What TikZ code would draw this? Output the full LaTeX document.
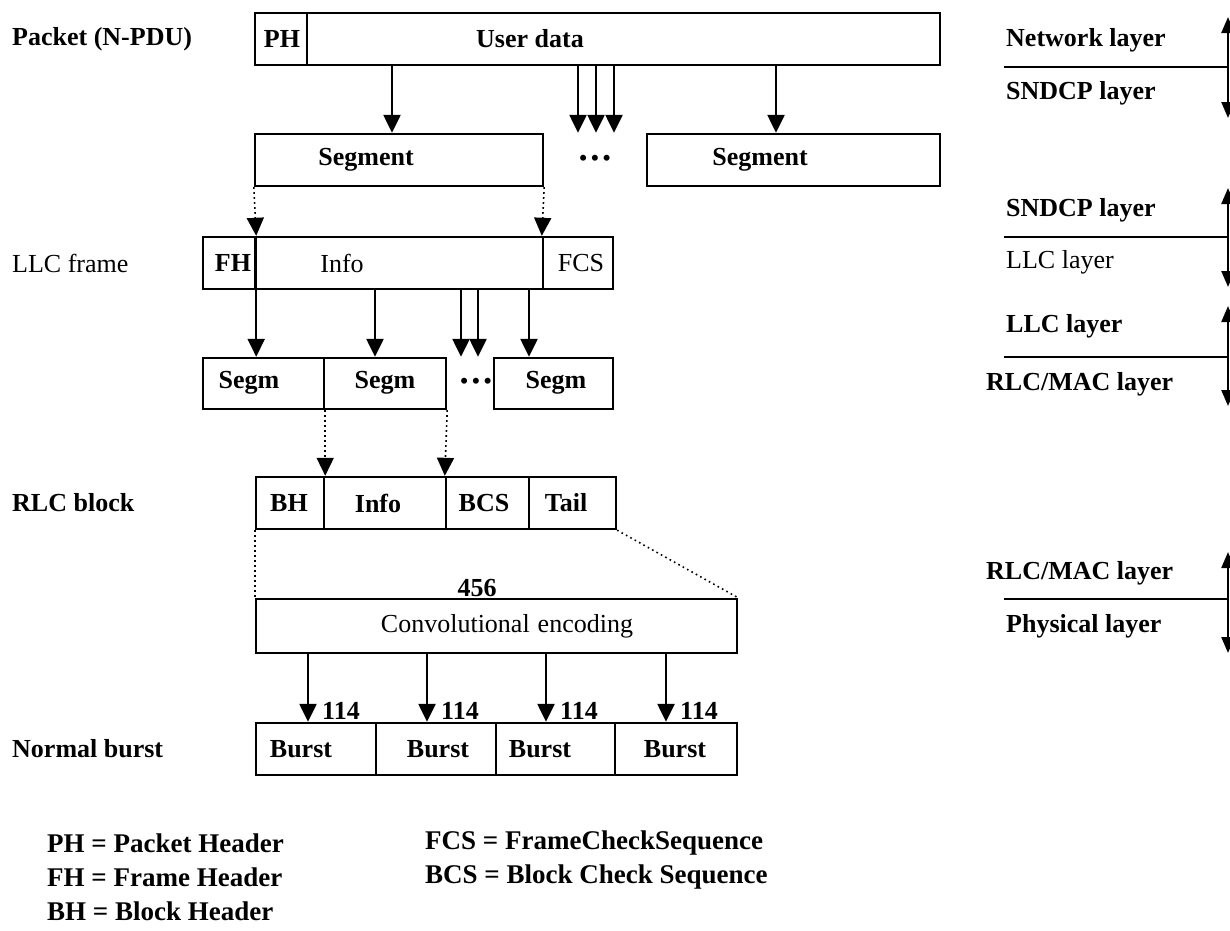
\documentclass[tikz,border=0pt]{standalone}
\usepackage{fontspec}
\setmainfont{Liberation Serif}
\usetikzlibrary{arrows.meta,calc}
\tikzset{
  x=1pt, y=-1pt,
  box/.style={draw, line width=2.4pt, inner sep=0pt, minimum height=52pt},
  lbl/.style={font=\bfseries\fontsize{26}{30}\selectfont, inner sep=0pt},
  reg/.style={font=\fontsize{26}{30}\selectfont, inner sep=0pt},
  leg/.style={font=\bfseries\fontsize{27}{30}\selectfont, inner sep=0pt, anchor=west},
  arr/.style={line width=2.4pt, -{Triangle[width=17pt,length=18pt]}},
  dotarr/.style={line width=1.6pt, dash pattern=on 1.6pt off 3.4pt, -{Triangle[width=17pt,length=18pt]}},
  dotln/.style={line width=1.6pt, dash pattern=on 1.6pt off 3.4pt},
  sep/.style={line width=2.4pt},
  dbl/.style={line width=2.4pt, {Triangle[width=13pt,length=16pt]}-{Triangle[width=13pt,length=16pt]}},
  dots/.style={font=\bfseries\fontsize{22}{22}\selectfont, inner sep=0pt}
}
\begin{document}
\begin{tikzpicture}
\useasboundingbox (0,0) rectangle (1230,930);
\fill[white] (0,0) rectangle (1230,930);

% left labels
\node[lbl, anchor=west] (lp) at (12,39) {Packet (N-PDU)};
\node[reg, anchor=west] (ll) at (12,263) {LLC frame};
\node[lbl, anchor=west] (lr) at (12,503) {RLC block};
\node[lbl, anchor=west] (lb) at (12,749) {Normal burst};

% packet
\node[box, minimum width=52pt] (ph) at (281,39) {};
\node[box, minimum width=633pt] (ud) at (623.5,39) {};
\node[lbl] (phT) at (282,39) {PH};
\node[lbl] (udT) at (530,39) {User data};

% segments
\node[box, minimum width=288pt] (seg1) at (399,160) {};
\node[box, minimum width=293pt] (seg2) at (793.5,160) {};
\node[lbl] (seg1T) at (366,160) {Segment};
\node[lbl] (seg2T) at (760,160) {Segment};
\node[dots] (d1) at (595,160) {\textbullet\hspace{4pt}\textbullet\hspace{4pt}\textbullet};

\draw[arr] (ud.south -| 392,0) -- (seg1.north -| 392,0);
\draw[arr] (ud.south -| 578,0) -- (seg1.north -| 578,0);
\draw[arr] (ud.south -| 596,0) -- (seg1.north -| 596,0);
\draw[arr] (ud.south -| 614,0) -- (seg1.north -| 614,0);
\draw[arr] (ud.south -| 776,0) -- (seg2.north -| 776,0);

% LLC frame
\node[box, minimum width=52pt] (fh) at (229,263) {};
\node[box, minimum width=288pt] (info) at (399,263) {};
\node[box, minimum width=70pt] (fcs) at (578,263) {};
\node[lbl] (fhT) at (233,263) {FH};
\node[reg] (infoT) at (342,263) {Info};
\node[reg] (fcsT) at (581,263) {FCS};

\draw[dotarr] (seg1.south west) -- (fh.north east);
\draw[dotarr] (seg1.south east) -- (fcs.north west);

% Segm row
\node[box, minimum width=121pt, minimum height=51pt] (s1) at (263.5,383.5) {};
\node[box, minimum width=122pt, minimum height=51pt] (s2) at (385,383.5) {};
\node[box, minimum width=119pt, minimum height=51pt] (s3) at (553.5,383.5) {};
\node[lbl] (s1T) at (249,383) {Segm};
\node[lbl] (s2T) at (385,383) {Segm};
\node[lbl] (s3T) at (556,383) {Segm};
\node[dots] (d2) at (476,383) {\textbullet\hspace{4pt}\textbullet\hspace{4pt}\textbullet};

\draw[arr] (fh.north east) -- (s1.north -| fh.east);
\draw[arr] (info.south -| 375,0) -- (s2.north -| 375,0);
\draw[arr] (info.south -| 461,0) -- (s2.north -| 461,0);
\draw[arr] (info.south -| 478,0) -- (s2.north -| 478,0);
\draw[arr] (info.south -| 529,0) -- (s3.north -| 529,0);

% RLC block
\node[box, minimum width=68pt] (bh) at (290,503) {};
\node[box, minimum width=122pt] (rinfo) at (385,503) {};
\node[box, minimum width=83pt] (bcs) at (487.5,503) {};
\node[box, minimum width=87pt] (tail) at (572.5,503) {};
\node[lbl] (bhT) at (289,503) {BH};
\node[lbl] (rinfoT) at (378,503) {Info};
\node[lbl] (bcsT) at (484,503) {BCS};
\node[lbl] (tailT) at (566,503) {Tail};

\draw[dotarr] (s1.south east) -- (bh.north east);
\draw[dotarr] (s2.south east) -- (bcs.north west);

% convolutional encoding
\node[box, minimum width=481pt, minimum height=54pt] (conv) at (496.5,626) {};
\node[reg] (convT) at (507,626) {Convolutional\hspace{8pt}encoding};
\node[lbl] (n456) at (477,588) {456};

\draw[dotln] (bh.south west) -- (conv.north west);
\draw[dotln] (tail.south east) -- (conv.north east);

% bursts
\node[box, minimum width=120pt] (b1) at (316,749) {};
\node[box, minimum width=120pt] (b2) at (436,749) {};
\node[box, minimum width=119pt] (b3) at (555.5,749) {};
\node[box, minimum width=122pt] (b4) at (676,749) {};
\node[lbl] (b1T) at (301,749) {Burst};
\node[lbl] (b2T) at (438,749) {Burst};
\node[lbl] (b3T) at (540,749) {Burst};
\node[lbl] (b4T) at (675,749) {Burst};

\draw[arr] (conv.south -| 308,0) -- (b1.north -| 308,0);
\draw[arr] (conv.south -| 427,0) -- (b2.north -| 427,0);
\draw[arr] (conv.south -| 546,0) -- (b3.north -| 546,0);
\draw[arr] (conv.south -| 666,0) -- (b4.north -| 666,0);
\node[lbl, anchor=west] (q1) at (322,711) {114};
\node[lbl, anchor=west] (q2) at (441,711) {114};
\node[lbl, anchor=west] (q3) at (560,711) {114};
\node[lbl, anchor=west] (q4) at (680,711) {114};

% right side layers
\node[lbl, anchor=west] (r1a) at (1006,40) {Network layer};
\node[lbl, anchor=west] (r1b) at (1006,93) {SNDCP layer};
\coordinate (r1l) at (1004,67); \coordinate (r1r) at (1228,67);
\coordinate (r1t) at (1228,17); \coordinate (r1d) at (1228,118);
\draw[sep] (r1l) -- (r1r);
\draw[dbl] (r1t) -- (r1d);

\node[lbl, anchor=west] (r2a) at (1006,210) {SNDCP layer};
\node[reg, anchor=west] (r2b) at (1006,262) {LLC layer};
\coordinate (r2l) at (1004,237); \coordinate (r2r) at (1228,237);
\coordinate (r2t) at (1228,188); \coordinate (r2d) at (1228,287);
\draw[sep] (r2l) -- (r2r);
\draw[dbl] (r2t) -- (r2d);

\node[lbl, anchor=west] (r3a) at (1006,326) {LLC layer};
\node[lbl, anchor=west] (r3b) at (986,384) {RLC/MAC layer};
\coordinate (r3l) at (1004,357); \coordinate (r3r) at (1228,357);
\coordinate (r3t) at (1228,306); \coordinate (r3d) at (1228,406);
\draw[sep] (r3l) -- (r3r);
\draw[dbl] (r3t) -- (r3d);

\node[lbl, anchor=west] (r4a) at (986,573) {RLC/MAC layer};
\node[lbl, anchor=west] (r4b) at (1006,626) {Physical layer};
\coordinate (r4l) at (1004,599); \coordinate (r4r) at (1228,599);
\coordinate (r4t) at (1228,552); \coordinate (r4d) at (1228,653);
\draw[sep] (r4l) -- (r4r);
\draw[dbl] (r4t) -- (r4d);

% legend
\node[leg] (k1) at (47,843) {PH = Packet Header};
\node[leg] (k2) at (47,877) {FH = Frame Header};
\node[leg] (k3) at (47,911) {BH = Block Header};
\node[leg] (k4) at (425,843) {FCS = FrameCheckSequence};
\node[leg] (k5) at (425,877) {BCS = Block Check Sequence};
\end{tikzpicture}
\end{document}
